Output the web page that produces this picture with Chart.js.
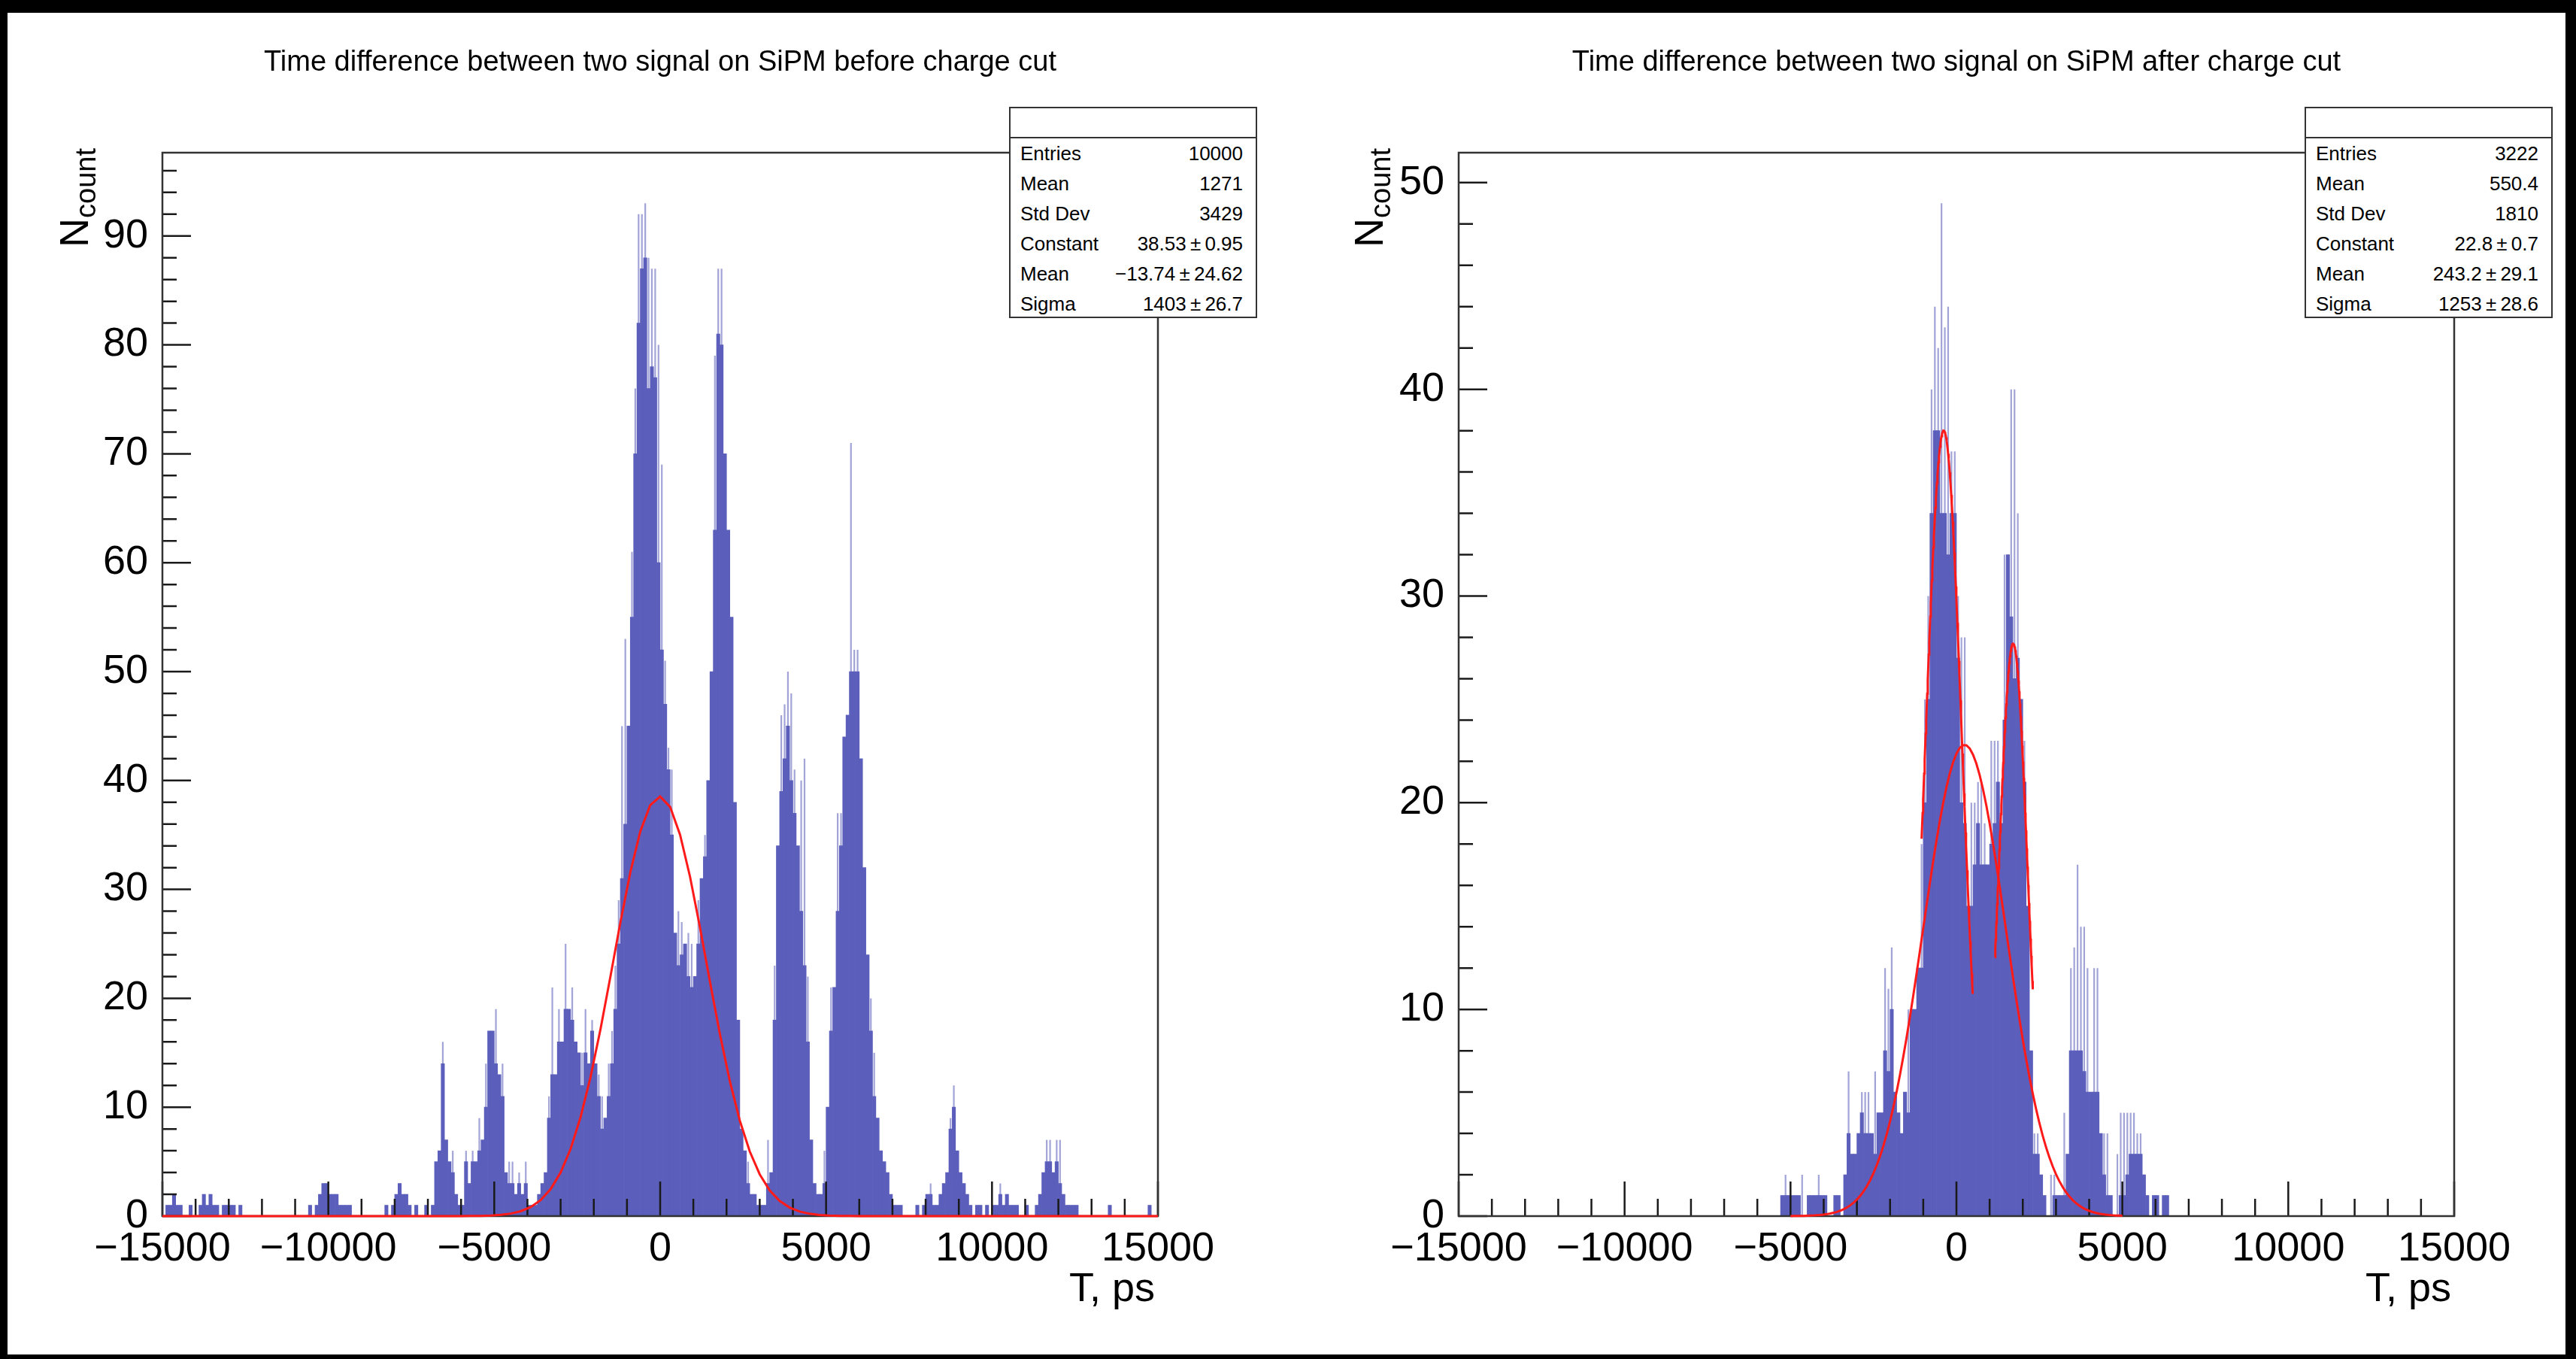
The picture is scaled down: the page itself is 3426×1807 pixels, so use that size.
<!DOCTYPE html>
<html lang="en">
<head>
  <meta charset="UTF-8">
  <title>Time difference between two signal on SiPM</title>
  <script src="https://cdn.jsdelivr.net/npm/chart.js@4.4.0/dist/chart.umd.min.js"></script>
  <style>
    html, body { margin: 0; padding: 0; background: #000; }
    body {
      width: 3426px; height: 1807px; position: relative; overflow: hidden;
      font-family: "Liberation Sans", Arial, Helvetica, sans-serif; color: #000;
    }
    .sheet { position: absolute; left: 10px; top: 17px; right: 14px; bottom: 6px; background: #fff; }
    canvas { position: absolute; top: 0; }
    .title { position: absolute; top: 81px; transform: translate(-50%, -50%); white-space: nowrap; font-size: 38px; }
    .ytitle { position: absolute; top: 197px; transform-origin: 0 0; transform: rotate(-90deg) translateX(-100%);
              white-space: nowrap; font-size: 54px; line-height: 64px; }
    .ytitle sub { font-size: 38px; vertical-align: -10px; }
    .xtitle { position: absolute; top: 1711px; transform: translate(-100%, -50%); white-space: nowrap; font-size: 54px; }
    .stats { position: absolute; top: 142px; width: 330px; height: 281px; box-sizing: border-box;
             border: 2.5px solid #333; background: #fff; font-size: 26px; }
    .stats .head { height: 38px; border-bottom: 2.5px solid #333; }
    .stats .row { display: flex; justify-content: space-between; height: 40px; line-height: 40px; padding: 0 17px 0 13px; }
  </style>
</head>
<body>
  <div class="sheet"></div>
  <canvas id="before" width="1713" height="1807" style="left:0"></canvas>
  <canvas id="after" width="1713" height="1807" style="left:1713px"></canvas>

  <div class="title" style="left:878px">Time difference between two signal on SiPM before charge cut</div>
  <div class="title" style="left:2602px">Time difference between two signal on SiPM after charge cut</div>
  <div class="ytitle" style="left:66px">N<sub>count</sub></div>
  <div class="ytitle" style="left:1788px">N<sub>count</sub></div>
  <div class="xtitle" style="left:1536px">T, ps</div>
  <div class="xtitle" style="left:3260px">T, ps</div>
  <div class="stats" id="statsBefore" style="left:1342px"></div>
  <div class="stats" id="statsAfter" style="left:3065px"></div>

  <script>
    // histogram binning (ps)
    const binStart = -15000;
    const binWidth = 100;

    // counts per bin, before charge cut (rows of 10 bins = 1000 ps)
    const countsBefore = [
      0, 1, 1, 2, 1, 1, 0, 0, 1, 0,
      0, 1, 2, 1, 2, 1, 1, 0, 1, 1,
      1, 1, 0, 1, 0, 0, 0, 0, 0, 0,
      0, 0, 0, 0, 0, 0, 0, 0, 0, 0,
      0, 0, 0, 0, 1, 0, 1, 2, 3, 3,
      2, 2, 2, 1, 1, 1, 1, 0, 0, 0,
      0, 0, 0, 0, 0, 0, 0, 1, 0, 1,
      2, 3, 2, 2, 1, 0, 1, 0, 0, 1,
      0, 1, 5, 6, 14, 7, 5, 4, 2, 1,
      1, 5, 3, 5, 5, 6, 7, 10, 17, 17,
      14, 13, 11, 4, 3, 3, 2, 3, 2, 3,
      1, 1, 1, 2, 3, 4, 9, 13, 13, 16,
      16, 19, 19, 18, 16, 15, 12, 15, 14, 17,
      14, 11, 8, 9, 11, 14, 19, 25, 31, 36,
      45, 55, 70, 82, 87, 88, 76, 78, 77, 60,
      52, 47, 41, 35, 26, 23, 24, 25, 22, 21,
      22, 25, 31, 33, 40, 50, 63, 81, 80, 70,
      63, 55, 38, 18, 8, 6, 3, 2, 2, 1,
      1, 1, 3, 4, 18, 34, 39, 42, 45, 40,
      37, 34, 28, 23, 16, 7, 3, 2, 2, 3,
      10, 17, 21, 28, 34, 44, 46, 50, 50, 50,
      42, 32, 24, 17, 11, 9, 6, 5, 4, 2,
      1, 1, 1, 0, 0, 0, 0, 1, 0, 1,
      2, 2, 1, 1, 2, 3, 4, 8, 10, 6,
      4, 3, 2, 1, 0, 1, 1, 0, 1, 0,
      1, 1, 2, 1, 2, 1, 1, 1, 0, 0,
      1, 0, 0, 1, 2, 4, 5, 5, 4, 5,
      3, 2, 1, 1, 1, 1, 0, 0, 0, 0,
      0, 0, 0, 0, 0, 1, 0, 0, 0, 0,
      0, 0, 0, 0, 0, 0, 0, 1, 0, 0
    ];

    // counts per bin, after charge cut
    const countsAfter = [
      0, 0, 0, 0, 0, 0, 0, 0, 0, 0,
      0, 0, 0, 0, 0, 0, 0, 0, 0, 0,
      0, 0, 0, 0, 0, 0, 0, 0, 0, 0,
      0, 0, 0, 0, 0, 0, 0, 0, 0, 0,
      0, 0, 0, 0, 0, 0, 0, 0, 0, 0,
      0, 0, 0, 0, 0, 0, 0, 0, 0, 0,
      0, 0, 0, 0, 0, 0, 0, 0, 0, 0,
      0, 0, 0, 0, 0, 0, 0, 0, 0, 0,
      0, 0, 0, 0, 0, 0, 0, 0, 0, 0,
      0, 0, 0, 0, 0, 0, 0, 1, 1, 1,
      1, 1, 1, 0, 0, 1, 1, 1, 1, 1,
      1, 0, 0, 1, 1, 0, 2, 4, 3, 3,
      4, 5, 4, 4, 4, 3, 5, 5, 8, 7,
      10, 6, 5, 4, 6, 5, 10, 10, 12, 12,
      20, 25, 34, 38, 38, 34, 34, 32, 34, 34,
      27, 20, 19, 15, 15, 17, 19, 17, 17, 17,
      18, 19, 21, 19, 24, 32, 29, 26, 27, 25,
      21, 15, 8, 3, 3, 2, 1, 0, 0, 1,
      1, 1, 1, 3, 8, 8, 8, 8, 7, 6,
      6, 6, 6, 4, 2, 1, 1, 0, 0, 1,
      1, 2, 3, 3, 3, 3, 2, 1, 0, 1,
      1, 0, 1, 1, 0, 0, 0, 0, 0, 0,
      0, 0, 0, 0, 0, 0, 0, 0, 0, 0,
      0, 0, 0, 0, 0, 0, 0, 0, 0, 0,
      0, 0, 0, 0, 0, 0, 0, 0, 0, 0,
      0, 0, 0, 0, 0, 0, 0, 0, 0, 0,
      0, 0, 0, 0, 0, 0, 0, 0, 0, 0,
      0, 0, 0, 0, 0, 0, 0, 0, 0, 0,
      0, 0, 0, 0, 0, 0, 0, 0, 0, 0,
      0, 0, 0, 0, 0, 0, 0, 0, 0, 0
    ];

    // single narrow bins that stick out above their neighbours: [bin start (ps), count]
    const spikesBefore = [
      [-6600, 16], [-6300, 6], [-5900, 6], [-5700, 6], [-5500, 9], [-5300, 14], [-5000, 19],
      [-4800, 14], [-4600, 5], [-4500, 5], [-4300, 4], [-4100, 5], [-3400, 11], [-3300, 21],
      [-3100, 19], [-2900, 25], [-2700, 21], [-2400, 15], [-2300, 19], [-2100, 18], [-1900, 13],
      [-1800, 11], [-1600, 14], [-1500, 17], [-1400, 23], [-1300, 29], [-1200, 45], [-1100, 53],
      [-900, 61], [-800, 76], [-700, 92], [-600, 92], [-500, 93], [-400, 88], [-300, 87],
      [-200, 87], [-100, 80], [0, 69], [100, 51], [200, 43], [300, 41], [500, 28], [600, 27],
      [800, 26], [900, 25], [1100, 29], [1300, 35], [1600, 79], [1700, 87], [1800, 87],
      [2600, 5], [3200, 7], [3400, 23], [3600, 46], [3700, 47], [3800, 50], [3900, 48],
      [4000, 41], [4200, 40], [4300, 42], [4400, 22], [4900, 6], [5100, 21], [5300, 37],
      [5400, 37], [5700, 71], [5800, 52], [5900, 52], [6300, 20], [6400, 15], [8100, 3],
      [8700, 9], [8800, 12], [10200, 3], [11600, 7], [11700, 7], [11900, 7], [12000, 7]
    ];
    const spikesAfter = [
      [-5200, 2], [-4700, 2], [-4200, 2], [-3300, 7], [-2900, 6], [-2800, 6], [-2700, 6],
      [-2500, 7], [-2200, 12], [-2100, 11], [-2000, 13], [-1500, 10], [-1100, 18], [-1000, 25],
      [-900, 30], [-800, 40], [-700, 44], [-600, 42], [-500, 49], [-400, 43], [-300, 44],
      [-200, 37], [-100, 37], [0, 30], [100, 28], [200, 28], [400, 20], [500, 20], [600, 21],
      [700, 21], [800, 19], [1000, 23], [1100, 23], [1200, 23], [1400, 32], [1600, 40],
      [1700, 40], [1800, 34], [2000, 23], [2300, 4], [2400, 4], [2800, 2], [2900, 2],
      [3200, 5], [3400, 12], [3500, 13], [3600, 17], [3700, 14], [3800, 14], [3900, 12],
      [4100, 12], [4200, 12], [4300, 4], [4400, 4], [4500, 4], [4800, 3], [4900, 5],
      [5000, 5], [5100, 5], [5200, 5], [5300, 5], [5400, 4], [5500, 4]
    ];

    // gaussian fits: [constant, mean, sigma, range from, range to]
    const fitBefore = [[38.53, -13.74, 1403, -15000, 15000]];
    const fitAfter = [
      [22.8, 243.2, 1253, -5000, 5000],
      [38.0, -384, 550, -1050, 490],
      [27.7, 1708, 435, 1160, 2300]
    ];

    const xTickValues = [-15000, -10000, -5000, 0, 5000, 10000, 15000];
    const xTickLabels = ['\u221215000', '\u221210000', '\u22125000', '0', '5000', '10000', '15000'];
    const yTicksBefore = [0, 10, 20, 30, 40, 50, 60, 70, 80, 90];
    const yTicksAfter = [0, 10, 20, 30, 40, 50];

    const statLabels = ['Entries', 'Mean', 'Std Dev', 'Constant', 'Mean', 'Sigma'];
    const statBefore = ['10000', '1271', '3429', '38.53\u2009\u00b1\u20090.95', '\u221213.74\u2009\u00b1\u200924.62', '1403\u2009\u00b1\u200926.7'];
    const statAfter = ['3222', '550.4', '1810', '22.8\u2009\u00b1\u20090.7', '243.2\u2009\u00b1\u200929.1', '1253\u2009\u00b1\u200928.6'];

    const FONT = '"Liberation Sans", Arial, Helvetica, sans-serif';

    function fillStats(id, values) {
      let html = '<div class="head"></div>';
      statLabels.forEach((l, i) => {
        html += `<div class="row"><span>${l}</span><span>${values[i]}</span></div>`;
      });
      document.getElementById(id).innerHTML = html;
    }
    fillStats('statsBefore', statBefore);
    fillStats('statsAfter', statAfter);

    // ROOT style frame with ticks pointing inside, drawn right after the bars
    const rootFrame = {
      id: 'rootFrame',
      afterDatasetDraw(chart, args, opts) {
        if (args.index !== 1) return;
        const { ctx, chartArea: a, scales: { x, y } } = chart;
        ctx.save();
        ctx.strokeStyle = '#1a1a1a';
        ctx.lineWidth = 2.5;
        ctx.beginPath();
        for (let v = x.min; v <= x.max; v += 1000) {
          const px = x.getPixelForValue(v);
          const len = (v % 5000 === 0) ? 46 : 23;
          ctx.moveTo(px, a.bottom);
          ctx.lineTo(px, a.bottom - len);
        }
        for (let v = 0; v <= y.max; v += opts.yMinor) {
          const py = y.getPixelForValue(v);
          const len = (Math.round(v) % 10 === 0) ? 38 : 19;
          ctx.moveTo(a.left, py);
          ctx.lineTo(a.left + len, py);
        }
        ctx.stroke();
        ctx.strokeStyle = '#333';
        ctx.lineWidth = 2.5;
        ctx.strokeRect(a.left, a.top, a.right - a.left, a.bottom - a.top);
        ctx.restore();
      }
    };

    function makeChart(id, counts, spikes, fits, yMax, yTicks, axisWidth, padRight) {
      const center = i => binStart + (i + 0.5) * binWidth;
      const bars = counts.map((c, i) => ({ x: center(i), y: c === 0 ? null : c }));
      const thin = spikes.map(([t, c]) => ({ x: t + binWidth / 2, y: c }));
      const datasets = [{
        type: 'bar',
        data: thin,
        backgroundColor: '#a2a4d8',
        borderWidth: 0,
        barPercentage: 0.5,
        categoryPercentage: 1,
        grouped: false,
        order: 3
      }, {
        type: 'bar',
        data: bars,
        backgroundColor: '#5b5eba',
        borderWidth: 0,
        barPercentage: 1,
        categoryPercentage: 1,
        grouped: false,
        order: 2
      }];
      fits.forEach(([c, m, s, from, to]) => {
        const pts = [];
        for (let k = 0; k <= 100; k++) {
          const t = from + (to - from) * k / 100;
          pts.push({ x: t, y: c * Math.exp(-0.5 * ((t - m) / s) ** 2) });
        }
        datasets.push({
          type: 'line',
          data: pts,
          borderColor: '#ff1a1a',
          borderWidth: 3,
          pointRadius: 0,
          tension: 0,
          fill: false,
          clip: 3,
          order: 1
        });
      });

      return new Chart(document.getElementById(id), {
        type: 'bar',
        data: { datasets },
        options: {
          responsive: false,
          animation: false,
          devicePixelRatio: 1,
          layout: { padding: { left: 0, top: 203, right: padRight, bottom: 0 } },
          plugins: {
            legend: { display: false },
            tooltip: { enabled: false },
            rootFrame: { yMinor: 2 }
          },
          scales: {
            x: {
              type: 'linear',
              min: -15000,
              max: 15000,
              offset: false,
              grid: { display: false, offset: false },
              border: { display: false },
              afterBuildTicks: s => { s.ticks = xTickValues.map(v => ({ value: v })); },
              afterFit: s => { s.height = 190; },
              ticks: {
                autoSkip: false,
                maxRotation: 0,
                padding: 4,
                color: '#000',
                font: { family: FONT, size: 54 },
                callback: v => xTickLabels[xTickValues.indexOf(v)]
              }
            },
            y: {
              min: 0,
              max: yMax,
              grid: { display: false },
              border: { display: false },
              afterBuildTicks: s => { s.ticks = yTicks.map(v => ({ value: v })); },
              afterFit: s => { s.width = axisWidth; },
              ticks: {
                padding: 11,
                color: '#000',
                font: { family: FONT, size: 54 },
                callback: v => String(v)
              }
            }
          }
        },
        plugins: [rootFrame]
      });
    }

    makeChart('before', countsBefore, spikesBefore, fitBefore, 97.65, yTicksBefore, 216, 173);
    makeChart('after', countsAfter, spikesAfter, fitAfter, 51.45, yTicksAfter, 227, 162);
  </script>
</body>
</html>
